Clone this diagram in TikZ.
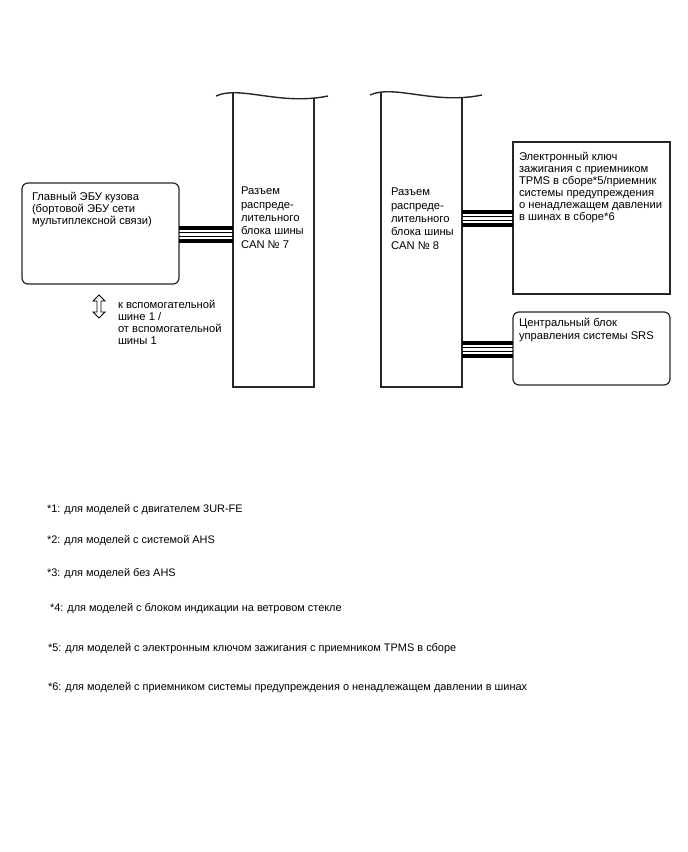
\documentclass[tikz,border=0pt]{standalone}
\usepackage{fontspec}
\setmainfont{Liberation Sans}
\usetikzlibrary{fit}
\begin{document}
\begin{tikzpicture}[x=0.75pt,y=-0.75pt,
  every node/.style={inner sep=0pt, outer sep=0pt},
  txt/.style={font=\fontsize{8.4}{9.1}\selectfont, align=left, anchor=north west},
  foot/.style={font=\fontsize{8.2}{9}\selectfont, anchor=base west},
  bartxt/.style={font=\fontsize{8.4}{10}\selectfont, align=left, anchor=north west},
  boxline/.style={draw=black!85, line width=0.9pt},
  barline/.style={draw=black!85, line width=1.05pt},
  canthick/.style={line width=2.5pt},
  canthin/.style={line width=0.75pt}]
\useasboundingbox[fill=white] (0,0) rectangle (688,852);

% boxes
\node[fit={(22,183)(179,284)}, boxline, rounded corners=4.5pt] (ecu) {};
\node[fit={(513,142)(670,294)}, boxline] (tpms) {};
\node[fit={(513,312)(670,385)}, boxline, rounded corners=4.5pt] (srs) {};
\node[fit={(233,96)(314,387)}] (bar7) {};
\node[fit={(381,96)(462,387)}] (bar8) {};

% bar 7
\draw[barline] (216,96) .. controls (240,85) and (280,106) .. (328,96);
\begin{scope}
\clip (216,96) .. controls (240,85) and (280,106) .. (328,96) -- (328,400) -- (216,400) -- cycle;
\draw[barline] (bar7.west |- 0,80) -- (bar7.south west) -- (bar7.south east) -- (bar7.east |- 0,80);
\end{scope}
% bar 8
\draw[barline] (370,95) .. controls (394,84) and (434,105) .. (482,95);
\begin{scope}
\clip (370,95) .. controls (394,84) and (434,105) .. (482,95) -- (482,400) -- (370,400) -- cycle;
\draw[barline] (bar8.west |- 0,80) -- (bar8.south west) -- (bar8.south east) -- (bar8.east |- 0,80);
\end{scope}

% CAN links
\newcommand\canlink[3]{%
  \draw[canthick] (#1 |- 0,#3) -- (#2 |- 0,#3);
  \draw[canthin] (#1 |- 0,#3+4.5) -- (#2 |- 0,#3+4.5);
  \draw[canthin] (#1 |- 0,#3+8.5) -- (#2 |- 0,#3+8.5);
  \draw[canthick] (#1 |- 0,#3+13) -- (#2 |- 0,#3+13);}
\canlink{ecu.east}{bar7.west}{228}
\canlink{bar8.east}{tpms.west}{212}
\canlink{bar8.east}{srs.west}{343}

% texts
\node[txt] (ecut) at (32,192) {Главный ЭБУ кузова\\(бортовой ЭБУ сети\\мультиплексной связи)};
\node[bartxt] (b7t) at (241,187) {Разъем\\распреде-\\лительного\\блока шины\\CAN № 7};
\node[bartxt] (b8t) at (391,188) {Разъем\\распреде-\\лительного\\блока шины\\CAN № 8};
\node[txt] (tpmst) at (519,152) {Электронный ключ\\зажигания с приемником\\TPMS в сборе*5/приемник\\системы предупреждения\\о ненадлежащем давлении\\в шинах в сборе*6};
\node[txt, font=\fontsize{8.4}{10}\selectfont] (srst) at (519,318) {Центральный блок\\управления системы SRS};

% sub bus arrow
\draw[line width=0.6pt] (99,295) -- (105,301) -- (101,301) -- (101,312) -- (105,312) -- (99,318) -- (93,312) -- (97,312) -- (97,301) -- (93,301) -- cycle;
\node[txt] (subt) at (118,300) {к вспомогательной\\шине 1 /\\от вспомогательной\\шины 1};

% footnotes
\node[foot] (f1) at (47,512) {*1: для моделей с двигателем 3UR-FE};
\node[foot] (f2) at (47,543) {*2: для моделей с системой AHS};
\node[foot] (f3) at (47,576) {*3: для моделей без AHS};
\node[foot] (f4) at (50,611) {*4: для моделей с блоком индикации на ветровом стекле};
\node[foot] (f5) at (48,651) {*5: для моделей с электронным ключом зажигания с приемником TPMS в сборе};
\node[foot] (f6) at (48,690) {*6: для моделей с приемником системы предупреждения о ненадлежащем давлении в шинах};
\end{tikzpicture}
\end{document}
